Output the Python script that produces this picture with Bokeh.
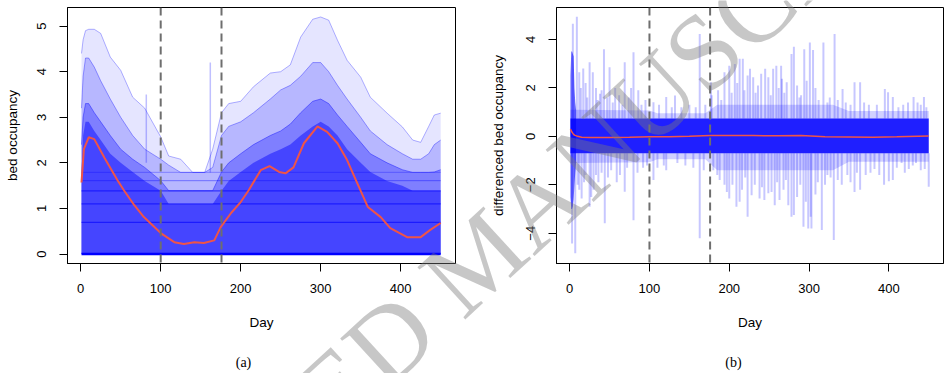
from bokeh.plotting import figure
from bokeh.models import Span, Label, FixedTicker, GridBox, Range1d
from bokeh.embed import file_html
from bokeh.resources import INLINE

# ---------------- data ----------------
# panel (a): bed occupancy, envelopes of the simulated paths
env_days = [1, 3, 6, 10, 17, 25, 37, 50, 65, 80, 100, 110, 125, 140, 155, 165, 176, 185,
            200, 216, 237, 250, 262, 275, 290, 300, 310, 321, 333, 350, 362, 383, 402,
            415, 425, 435, 442, 450]
env_max = [4.4, 4.7, 4.9, 4.93, 4.93, 4.84, 4.32, 4.03, 3.44, 3.2, 2.57, 2.15, 2.08, 1.79,
           1.79, 2.3, 3.1, 3.3, 3.35, 3.67, 3.97, 4.0, 4.15, 4.76, 5.15, 5.2, 5.13, 4.69,
           4.25, 3.88, 3.44, 3.09, 2.79, 2.5, 2.45, 2.8, 3.05, 3.09]
env_upper = [3.2, 3.9, 4.3, 4.3, 4.1, 3.8, 3.4, 3.0, 2.6, 2.3, 2.08, 1.95, 1.79, 1.79,
             1.79, 1.9, 2.6, 2.8, 2.9, 3.1, 3.4, 3.6, 3.7, 3.9, 4.2, 4.2, 4.0, 3.7, 3.4,
             3.0, 2.7, 2.4, 2.2, 2.08, 2.08, 2.2, 2.4, 2.5]
env_mid = [2.4, 3.0, 3.3, 3.3, 3.1, 2.9, 2.6, 2.3, 2.08, 1.9, 1.61, 1.39, 1.39, 1.39,
           1.39, 1.39, 1.8, 2.0, 2.2, 2.4, 2.6, 2.7, 2.85, 3.1, 3.35, 3.4, 3.3, 3.05, 2.8,
           2.45, 2.2, 2.0, 1.85, 1.79, 1.79, 1.79, 1.8, 1.85]
env_core = [1.8, 2.6, 2.9, 2.9, 2.7, 2.5, 2.2, 2.0, 1.8, 1.6, 1.39, 1.1, 1.1, 1.1, 1.1,
            1.1, 1.39, 1.6, 1.8, 2.0, 2.2, 2.3, 2.4, 2.6, 2.8, 2.9, 2.8, 2.6, 2.3, 2.0,
            1.8, 1.6, 1.5, 1.39, 1.39, 1.39, 1.39, 1.39]
occ_levels = [0.0, 0.693, 1.099, 1.386, 1.609, 1.792]
first_day = 1
last_day = 450
occ_spike_days = [82, 162]
occ_spike_base = [2.0, 1.79]
occ_spike_top = [3.5, 4.2]

mean_days = [1, 4, 10, 17, 30, 46, 54, 67, 79, 100, 117, 129, 142, 154, 167, 175, 188,
             200, 210, 225, 236, 248, 256, 266, 279, 296, 308, 321, 333, 344, 359, 375,
             387, 408, 425, 437, 450]
mean_occ = [1.57, 2.3, 2.56, 2.52, 2.1, 1.62, 1.40, 1.07, 0.81, 0.46, 0.26, 0.22, 0.26,
            0.24, 0.30, 0.59, 0.90, 1.14, 1.40, 1.84, 1.93, 1.80, 1.77, 1.90, 2.43, 2.80,
            2.68, 2.43, 2.06, 1.62, 1.03, 0.81, 0.57, 0.37, 0.37, 0.53, 0.68]

# panel (b): differenced bed occupancy
band_top = 0.74
band_bottom = -0.70
early_days = [1, 2, 3, 4, 5, 6, 7, 8]
early_top = [2.5, 3.5, 3.5, 3.4, 3.3, 2.0, 1.4, 1.1]
early_bottom = [-2.5, -3.0, -3.0, -2.9, -2.6, -2.0, -1.5, -1.1]
fringe_days = [1, 8, 100, 110, 170, 185, 330, 350, 450]
fringe_top = [1.1, 1.1, 1.07, 0.95, 0.95, 1.3, 1.3, 1.05, 1.05]
fringe_bottom = [-1.1, -1.1, -1.07, -0.95, -0.95, -1.4, -1.4, -1.05, -1.05]

up_days = [4, 9, 12, 14, 17, 20, 22, 25, 29, 33, 35, 38, 40, 43, 47, 50, 54, 57, 62, 66,
           69, 74, 77, 80, 86, 90, 95, 105, 112, 121, 128, 132, 140, 150, 158, 163, 170,
           177, 178, 186, 190, 194, 200, 203, 207, 210, 213, 217, 219, 223, 226, 230, 233,
           236, 240, 245, 249, 252, 255, 259, 262, 265, 266, 269, 272, 278, 281, 285, 288,
           290, 294, 297, 301, 305, 308, 312, 318, 323, 326, 332, 336, 342, 346, 352, 357,
           364, 369, 375, 385, 395, 399, 405, 412, 418, 424, 431, 436, 440, 444, 447]
up_vals = [4.65, 4.94, 2.65, 2.0, 2.8, 2.2, 1.6, 3.06, 2.65, 2.0, 1.5, 1.76, 1.9, 3.6, 1.6,
           2.85, 1.4, 2.0, 1.7, 1.3, 3.06, 1.6, 2.0, 3.47, 1.9, 1.3, 1.5, 1.41, 1.3, 1.62,
           1.2, 1.69, 1.2, 1.3, 1.2, 4.23, 1.3, 2.23, 1.7, 1.9, 1.5, 2.65, 2.92, 1.8, 2.99,
           2.2, 3.2, 3.2, 1.9, 2.51, 2.79, 2.44, 1.8, 2.1, 2.58, 2.79, 2.44, 1.7, 2.79,
           2.92, 2.0, 2.92, 2.38, 1.8, 2.23, 3.4, 3.7, 2.1, 1.6, 1.7, 3.6, 2.3, 3.88, 3.57,
           2.0, 1.5, 3.88, 1.4, 1.6, 4.23, 1.5, 1.96, 1.4, 1.3, 2.23, 2.23, 1.4, 1.3, 1.3,
           1.96, 1.82, 1.62, 1.2, 1.3, 1.4, 1.62, 1.4, 1.3, 1.62, 1.2]
down_days = [3, 7, 10, 12, 15, 18, 20, 25, 27, 30, 33, 36, 40, 44, 48, 52, 59, 63, 69, 72,
             80, 85, 92, 97, 105, 110, 118, 121, 135, 145, 155, 163, 168, 180, 185, 188,
             194, 197, 200, 204, 209, 213, 216, 220, 223, 228, 232, 238, 241, 244, 249, 253,
             257, 260, 263, 268, 271, 274, 278, 281, 285, 289, 293, 296, 299, 302, 303, 308,
             311, 316, 320, 323, 327, 331, 336, 341, 348, 352, 357, 360, 364, 371, 377, 382,
             388, 394, 400, 405, 410, 416, 420, 425, 430, 434, 440, 445, 450]
down_vals = [-4.42, -4.83, -2.0, -2.2, -2.57, -1.9, -1.6, -2.91, -2.5, -2.2, -1.6, -1.9,
             -1.5, -3.59, -1.7, -1.4, -1.9, -1.6, -2.29, -1.3, -3.46, -1.5, -1.3, -1.2,
             -1.8, -1.3, -1.2, -1.4, -1.1, -1.2, -1.3, -4.21, -1.4, -1.4, -1.6, -1.8, -2.0,
             -2.3, -2.57, -2.0, -2.91, -2.7, -2.2, -1.7, -3.32, -2.43, -2.0, -2.57, -2.1,
             -2.63, -2.35, -2.3, -2.84, -1.9, -2.63, -2.2, -1.8, -2.84, -3.32, -3.25, -2.5,
             -2.0, -3.73, -2.7, -3.8, -3.32, -3.8, -2.4, -1.9, -3.87, -2.0, -1.6, -1.7,
             -4.28, -1.8, -2.0, -1.6, -1.9, -2.3, -1.5, -2.2, -1.6, -1.5, -1.35, -1.6, -2.0,
             -1.85, -1.8, -1.3, -1.1, -1.5, -1.35, -1.2, -1.1, -1.4, -1.35, -2.08]

mean_diff_days = [1, 2, 4, 6, 10, 15, 25, 50, 75, 100, 125, 150, 176, 200, 230, 260, 290,
                  320, 350, 380, 410, 450]
mean_diff = [0.3, 0.22, 0.12, 0.05, 0.0, -0.04, -0.05, -0.05, -0.04, -0.02, -0.02, 0.0,
             0.04, 0.03, 0.03, 0.02, 0.04, -0.02, -0.03, -0.04, -0.02, 0.01]

change_days = [100, 176]
x_ticks = [0, 100, 200, 300, 400]
occ_ticks = [0, 1, 2, 3, 4, 5]
diff_ticks = [-4, -2, 0, 2, 4]
diff_tick_labels = {-4: "\u22124", -2: "\u22122", 0: "0", 2: "2", 4: "4"}
captions = ["(a)", "(b)"]
watermark = "ACCEPTED MANUSCRIPT"

# ---------------- layout (page pixels; the page has no margin) ----------------
PAGE_W, PAGE_H = 946, 373
X_RANGE = (-16.5, 468.5)
Y_OCC = (-0.208, 5.408)
Y_DIFF = (-5.25, 5.32)
TOP, FRAME_H, BOTTOM = 7, 256, 110
L_LEFT, L_FW, L_RIGHT = 67, 388, 20       # left frame: page x 67..455
R_LEFT, R_FW, R_RIGHT = 81, 387, 3        # right frame: page x 556..943
FONT = "Liberation Sans"
BLUE = "#0000ff"
RED = "#ef5448"


def make_fig(ml, fw, mr, yr, ylab, ylab_standoff):
    p = figure(x_range=X_RANGE, y_range=yr, frame_width=fw, frame_height=FRAME_H,
               min_border_left=ml, min_border_right=mr, min_border_top=TOP,
               min_border_bottom=BOTTOM, output_backend="svg", toolbar_location=None)
    p.frame_align = False
    p.grid.visible = False
    p.outline_line_color = "black"
    p.outline_line_width = 1
    p.background_fill_color = "white"
    p.border_fill_color = "white"
    for ax in (p.xaxis[0], p.yaxis[0]):
        ax.axis_line_color = "black"
        ax.major_tick_line_color = "black"
        ax.minor_tick_line_color = None
        ax.major_tick_in = 0
        ax.major_tick_out = 8
        ax.major_label_text_font = FONT
        ax.major_label_text_font_size = "13px"
        ax.major_label_text_color = "black"
        ax.axis_label_text_font = FONT
        ax.axis_label_text_font_size = "13.5px"
        ax.axis_label_text_font_style = "normal"
        ax.axis_label_text_color = "black"
    p.xaxis.ticker = FixedTicker(ticks=x_ticks)
    p.xaxis.axis_label = "Day"
    p.xaxis.major_label_standoff = 12
    p.xaxis.axis_label_standoff = 19
    p.yaxis.axis_label = ylab
    p.yaxis.major_label_orientation = "vertical"
    p.yaxis.major_label_standoff = 13
    p.yaxis.axis_label_standoff = ylab_standoff
    for d in change_days:
        p.add_layout(Span(location=d, dimension="height", line_color="#6e6e6e",
                          line_width=2, line_dash="8 5"))
    return p


# ---- panel (a)
p1 = make_fig(L_LEFT, L_FW, L_RIGHT, Y_OCC, "bed occupancy", 15)
p1.yaxis.ticker = FixedTicker(ticks=occ_ticks)
zeros = [0.0] * len(env_days)
for env, a in ((env_max, 0.10), (env_upper, 0.20), (env_mid, 0.30), (env_core, 0.45)):
    p1.varea(x=env_days, y1=zeros, y2=env, fill_color=BLUE, fill_alpha=a)
for env, a in ((env_max, 0.3), (env_upper, 0.35), (env_mid, 0.4)):
    p1.line(env_days, env, line_color=BLUE, line_alpha=a, line_width=1)
p1.multi_line(xs=[[first_day, last_day] for _ in occ_levels],
              ys=[[lv, lv] for lv in occ_levels],
              line_color=BLUE, line_alpha=[1.0, 0.6, 0.6, 0.6, 0.4, 0.3],
              line_width=[2.5, 1.2, 1.2, 1.2, 1, 1])
p1.segment(x0=occ_spike_days, y0=occ_spike_base, x1=occ_spike_days, y1=occ_spike_top,
           line_color=BLUE, line_alpha=0.25, line_width=1.5)
p1.line(mean_days, mean_occ, line_color=RED, line_width=2)

# ---- panel (b)
p2 = make_fig(R_LEFT, R_FW, R_RIGHT, Y_DIFF, "differenced bed occupancy", 18)
p2.yaxis.ticker = FixedTicker(ticks=diff_ticks)
p2.yaxis.major_label_overrides = diff_tick_labels
p2.segment(x0=up_days, y0=[band_top] * len(up_days), x1=up_days, y1=up_vals,
           line_color=BLUE, line_alpha=0.22, line_width=2)
p2.segment(x0=down_days, y0=[band_bottom] * len(down_days), x1=down_days, y1=down_vals,
           line_color=BLUE, line_alpha=0.22, line_width=2)
p2.varea(x=fringe_days, y1=fringe_bottom, y2=fringe_top, fill_color=BLUE, fill_alpha=0.18)
p2.varea(x=early_days, y1=early_bottom, y2=early_top, fill_color=BLUE, fill_alpha=0.6)
p2.varea(x=[first_day, last_day], y1=[band_bottom] * 2, y2=[band_top] * 2,
         fill_color=BLUE, fill_alpha=0.85)
p2.line(mean_diff_days, mean_diff, line_color=RED, line_width=1.5)

# ---- transparent page-sized overlay: captions and the watermark
ov = figure(width=PAGE_W, height=PAGE_H, x_range=Range1d(0, PAGE_W),
            y_range=Range1d(PAGE_H, 0), x_axis_location=None, y_axis_location=None,
            min_border=0, output_backend="svg", toolbar_location=None)
ov.frame_align = False
ov.grid.visible = False
ov.outline_line_color = None
ov.background_fill_color = None
ov.border_fill_color = None
for cap, cx in zip(captions, (243, 733)):
    ov.add_layout(Label(x=cx, y=362, text=cap, text_font="Liberation Serif",
                        text_font_size="14px", text_align="center",
                        text_baseline="middle", text_color="black"))
ov.add_layout(Label(x=7, y=690, text=watermark, text_font="Liberation Serif",
                    text_font_size="108px", angle=0.743, text_align="left",
                    text_baseline="alphabetic", text_color="#7a7a7a", text_alpha=0.42))

layout = GridBox(children=[(p1, 0, 0), (p2, 0, 1), (ov, 0, 0, 1, 2)], spacing=0)
open("out.html", "w").write(file_html(layout, INLINE))
